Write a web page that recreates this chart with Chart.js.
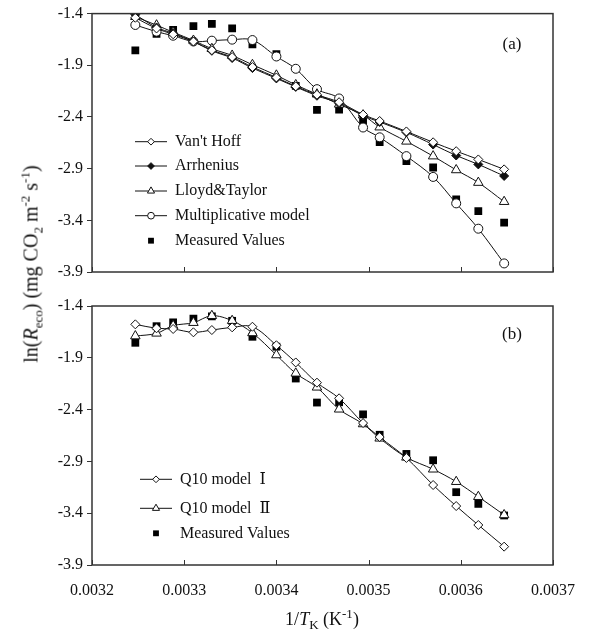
<!DOCTYPE html>
<html>
<head>
<meta charset="utf-8">
<script src="https://cdn.jsdelivr.net/npm/chart.js@4.4.1/dist/chart.umd.min.js"></script>
<style>
    body { margin: 0; background: #fff; }
    #wrap { position: relative; width: 600px; height: 631px; font-family: "Liberation Serif", "Times New Roman", serif; color: #111; }
    canvas { position: absolute; left: 0; }
    #chartA { top: 0; }
    #chartB { top: 290px; }
    .ytitle { position: absolute; left: 31px; top: 264px; transform: translate(-50%, -50%) rotate(-90deg); font-size: 20px; white-space: nowrap; }
    .xtitle { position: absolute; left: 322px; top: 619px; transform: translate(-50%, -50%); font-size: 18px; white-space: nowrap; }
    sub, sup { font-size: 13px; line-height: 0; }
</style>
</head>
<body>
<div id="wrap">
    <canvas id="chartA" width="600" height="290"></canvas>
    <canvas id="chartB" width="600" height="341"></canvas>
    <div class="ytitle">ln(<i>R</i><sub>eco</sub>) (mg CO<sub>2</sub> m<sup>-2</sup> s<sup>-1</sup>)</div>
    <div class="xtitle">1/<i>T</i><sub>K</sub> (K<sup>-1</sup>)</div>
</div>
<script>
// 1/T (K^-1) for each observation
const invT = [0.003247, 0.003270, 0.003288, 0.003310, 0.003330, 0.003352, 0.003374, 0.003400, 0.003421,
              0.003444, 0.003468, 0.003494, 0.003512, 0.003541, 0.003570, 0.003595, 0.003619, 0.003647];

const measured = [-1.755, -1.595, -1.558, -1.522, -1.500, -1.543, -1.697, -1.793, -2.100,
                  -2.332, -2.329, -2.446, -2.643, -2.828, -2.889, -3.197, -3.310, -3.422];

// panel (a)
const vantHoff = [-1.44, -1.544, -1.60, -1.67, -1.754, -1.821, -1.917, -2.018, -2.104,
                  -2.185, -2.257, -2.377, -2.439, -2.540, -2.645, -2.731, -2.811, -2.907];
const arrhenius = [-1.41, -1.534, -1.59, -1.67, -1.760, -1.830, -1.927, -2.027, -2.109,
                   -2.195, -2.267, -2.387, -2.449, -2.549, -2.667, -2.773, -2.859, -2.971];
const lloydTaylor = [-1.43, -1.512, -1.58, -1.66, -1.740, -1.805, -1.895, -1.997, -2.090,
                     -2.180, -2.278, -2.382, -2.499, -2.636, -2.779, -2.913, -3.035, -3.220];
const multiplicative = [-1.51, -1.575, -1.614, -1.67, -1.662, -1.652, -1.656, -1.815, -1.934,
                        -2.131, -2.221, -2.502, -2.597, -2.779, -2.980, -3.236, -3.481, -3.817];

// panel (b)
const q10One = [-1.577, -1.615, -1.622, -1.654, -1.632, -1.606, -1.600, -1.779, -1.945,
                -2.140, -2.291, -2.530, -2.665, -2.867, -3.128, -3.331, -3.514, -3.723];
const q10Two = [-1.690, -1.664, -1.590, -1.561, -1.494, -1.542, -1.660, -1.873, -2.050,
                -2.185, -2.397, -2.539, -2.677, -2.861, -2.976, -3.096, -3.241, -3.417];

const xTicks = [0.0032, 0.0033, 0.0034, 0.0035, 0.0036, 0.0037];
const yTicks = [-3.9, -3.4, -2.9, -2.4, -1.9, -1.4];

const FONT = "'Liberation Serif', 'DejaVu Serif', 'Times New Roman', serif";

function pts(ys) {
    return ys.map((y, i) => ({ x: invT[i], y: y }));
}

function series(label, ys, style, fill, radius) {
    return {
        label: label,
        data: pts(ys),
        borderColor: "#111",
        borderWidth: 1,
        pointStyle: style,
        pointRadius: radius,
        pointBackgroundColor: fill,
        pointBorderColor: "#111",
        pointBorderWidth: 1,
        tension: 0.35,
        fill: false,
    };
}

function measuredSet() {
    return {
        label: "Measured Values",
        data: pts(measured),
        showLine: false,
        pointStyle: "rect",
        pointRadius: 5.5,
        pointBackgroundColor: "#000",
        pointBorderColor: "#000",
        pointBorderWidth: 0,
    };
}

// frame, inward x ticks, legend and panel letter
const framePlugin = {
    id: "frame",
    afterDraw(chart, args, opts) {
        const { ctx, chartArea: a, scales } = chart;
        ctx.save();
        ctx.strokeStyle = "#333";
        ctx.lineWidth = 1.5;
        ctx.strokeRect(a.left, a.top, a.right - a.left, a.bottom - a.top);
        ctx.lineWidth = 1;
        xTicks.forEach(v => {
            const px = Math.round(scales.x.getPixelForValue(v)) + 0.5;
            ctx.beginPath();
            ctx.moveTo(px, a.bottom);
            ctx.lineTo(px, a.bottom - 5);
            ctx.stroke();
        });

        ctx.font = "16px " + FONT;
        ctx.textBaseline = "middle";
        ctx.fillStyle = "#111";
        opts.rows.forEach((y, i) => {
            const ds = chart.data.datasets[opts.order[i]];
            const mid = (opts.x0 + opts.x1) / 2;
            if (ds.showLine !== false) {
                ctx.strokeStyle = "#111";
                ctx.lineWidth = 1;
                ctx.beginPath();
                ctx.moveTo(opts.x0, y);
                ctx.lineTo(opts.x1, y);
                ctx.stroke();
            }
            ctx.fillStyle = ds.pointBackgroundColor;
            ctx.strokeStyle = ds.pointBorderColor;
            ctx.lineWidth = ds.pointBorderWidth;
            Chart.helpers.drawPoint(ctx, {
                pointStyle: ds.pointStyle,
                radius: ds.pointRadius * 0.75,
                rotation: 0,
                borderWidth: ds.pointBorderWidth,
            }, mid, y);
            ctx.fillStyle = "#111";
            ctx.fillText(ds.label, opts.tx, y);
        });

        ctx.font = "17px " + FONT;
        ctx.textAlign = "center";
        ctx.fillText(opts.panel, opts.px, opts.py);
        ctx.restore();
    },
};

function makeOptions(showX, frameOpts) {
    return {
        responsive: false,
        animation: false,
        layout: { padding: { top: showX ? 16 : 11, right: 47, left: 0, bottom: showX ? 0 : 18 } },
        plugins: {
            legend: { display: false },
            tooltip: { enabled: false },
            frame: frameOpts,
        },
        scales: {
            x: {
                type: "linear",
                min: 0.0032,
                max: 0.0037,
                afterBuildTicks: s => { s.ticks = xTicks.map(v => ({ value: v })); },
                afterFit: s => { s.height = showX ? 66 : 0; },
                border: { display: false },
                grid: { display: false },
                ticks: {
                    display: showX,
                    autoSkip: false,
                    maxRotation: 0,
                    padding: 8,
                    color: "#111",
                    font: { family: FONT, size: 16 },
                    callback: v => v.toFixed(4),
                },
            },
            y: {
                min: -3.9,
                max: -1.4,
                afterBuildTicks: s => { s.ticks = yTicks.map(v => ({ value: v })); },
                afterFit: s => { s.width = 92; },
                border: { display: false },
                grid: { drawOnChartArea: false, drawTicks: true, tickLength: 5, color: "#333" },
                ticks: {
                    padding: 4,
                    color: "#111",
                    font: { family: FONT, size: 16 },
                    callback: v => v.toFixed(1),
                },
            },
        },
    };
}

new Chart(document.getElementById("chartA"), {
    type: "line",
    data: {
        datasets: [
            series("Van't Hoff", vantHoff, "rectRot", "#fff", 4.5),
            series("Arrhenius", arrhenius, "rectRot", "#111", 4.5),
            series("Lloyd&Taylor", lloydTaylor, "triangle", "#fff", 5.5),
            series("Multiplicative model", multiplicative, "circle", "#fff", 4.5),
            measuredSet(),
        ],
    },
    options: makeOptions(false, {
        rows: [141.7, 166, 191, 215.7, 240.7],
        order: [0, 1, 2, 3, 4],
        x0: 135, x1: 167, tx: 175,
        panel: "(a)", px: 512, py: 45,
    }),
    plugins: [framePlugin],
});

new Chart(document.getElementById("chartB"), {
    type: "line",
    data: {
        datasets: [
            series("Q10 model  \u2160", q10One, "rectRot", "#fff", 4.5),
            series("Q10 model  \u2161", q10Two, "triangle", "#fff", 5.5),
            measuredSet(),
        ],
    },
    options: makeOptions(true, {
        rows: [189.3, 218.3, 243.3],
        order: [0, 1, 2],
        x0: 140, x1: 172, tx: 180,
        panel: "(b)", px: 512, py: 45,
    }),
    plugins: [framePlugin],
});
</script>
</body>
</html>
